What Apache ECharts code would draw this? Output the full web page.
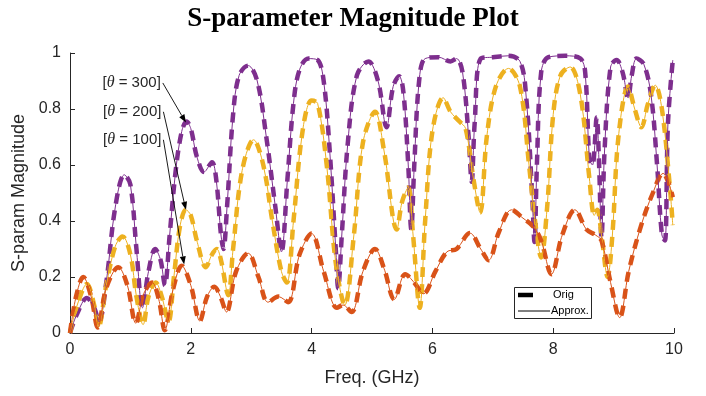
<!DOCTYPE html>
<html><head><meta charset="utf-8">
<script src="https://cdn.jsdelivr.net/npm/echarts@6/dist/echarts.min.js"></script>
<style>html,body{margin:0;padding:0;background:#fff}#c{width:706px;height:396px}</style>
</head><body><div id="c"></div>
<script>
// Frequency (GHz), magnitude pairs
const theta300 = [[0,0],[0.12,0.07],[0.28,0.125],[0.4,0.09],[0.48,0.04],[0.6,0.18],[0.75,0.45],[0.9,0.565],[1.0,0.53],[1.1,0.3],[1.2,0.09],[1.3,0.22],[1.41,0.30],[1.5,0.26],[1.57,0.17],[1.65,0.35],[1.75,0.58],[1.85,0.72],[1.93,0.755],[2.0,0.73],[2.1,0.63],[2.22,0.575],[2.35,0.61],[2.42,0.55],[2.5,0.35],[2.54,0.3],[2.6,0.45],[2.7,0.78],[2.8,0.92],[2.95,0.955],[3.1,0.9],[3.25,0.7],[3.4,0.45],[3.5,0.29],[3.6,0.55],[3.7,0.82],[3.8,0.94],[3.95,0.98],[4.1,0.975],[4.2,0.9],[4.3,0.65],[4.4,0.3],[4.44,0.16],[4.5,0.35],[4.6,0.68],[4.75,0.92],[4.94,0.97],[5.1,0.9],[5.24,0.735],[5.35,0.88],[5.45,0.917],[5.52,0.86],[5.6,0.6],[5.65,0.37],[5.7,0.6],[5.78,0.9],[5.88,0.98],[6.1,0.985],[6.3,0.97],[6.4,0.98],[6.5,0.93],[6.6,0.7],[6.65,0.54],[6.7,0.75],[6.8,0.98],[7.0,0.985],[7.25,0.99],[7.45,0.97],[7.55,0.85],[7.65,0.5],[7.69,0.325],[7.73,0.6],[7.8,0.93],[7.92,0.985],[8.2,0.99],[8.45,0.98],[8.53,0.93],[8.6,0.62],[8.65,0.6],[8.72,0.77],[8.76,0.6],[8.8,0.34],[8.85,0.65],[8.95,0.95],[9.05,0.975],[9.15,0.93],[9.24,0.84],[9.3,0.92],[9.38,0.98],[9.5,0.96],[9.62,0.85],[9.72,0.6],[9.8,0.35],[9.85,0.33],[9.9,0.75],[9.98,0.975]];
const theta200 = [[0,0],[0.12,0.1],[0.28,0.175],[0.4,0.1],[0.47,0.02],[0.6,0.17],[0.75,0.31],[0.87,0.345],[1.0,0.28],[1.1,0.13],[1.21,0.03],[1.3,0.13],[1.42,0.18],[1.52,0.13],[1.63,0.04],[1.72,0.2],[1.82,0.38],[1.92,0.44],[2.0,0.42],[2.1,0.33],[2.25,0.235],[2.35,0.28],[2.43,0.30],[2.5,0.26],[2.62,0.135],[2.7,0.3],[2.85,0.58],[3.04,0.69],[3.2,0.6],[3.35,0.4],[3.5,0.22],[3.59,0.18],[3.7,0.4],[3.85,0.72],[4.0,0.83],[4.1,0.82],[4.25,0.6],[4.4,0.25],[4.55,0.1],[4.7,0.35],[4.85,0.68],[5.05,0.79],[5.2,0.65],[5.41,0.37],[5.5,0.47],[5.6,0.52],[5.68,0.35],[5.79,0.09],[5.88,0.4],[6.0,0.72],[6.18,0.84],[6.3,0.79],[6.45,0.755],[6.55,0.73],[6.68,0.55],[6.79,0.43],[6.9,0.7],[7.05,0.88],[7.26,0.945],[7.45,0.88],[7.6,0.6],[7.7,0.4],[7.8,0.27],[7.9,0.45],[8.0,0.78],[8.12,0.92],[8.28,0.95],[8.45,0.85],[8.6,0.55],[8.68,0.42],[8.73,0.44],[8.8,0.35],[8.9,0.2],[8.98,0.35],[9.08,0.7],[9.24,0.88],[9.35,0.8],[9.46,0.735],[9.57,0.82],[9.69,0.885],[9.8,0.8],[9.92,0.55],[9.98,0.385]];
const theta100 = [[0,0],[0.1,0.13],[0.22,0.20],[0.35,0.13],[0.46,0.02],[0.6,0.16],[0.8,0.235],[0.95,0.17],[1.09,0.035],[1.22,0.14],[1.36,0.18],[1.47,0.12],[1.57,0.01],[1.7,0.15],[1.85,0.24],[2.0,0.17],[2.15,0.043],[2.27,0.13],[2.39,0.165],[2.49,0.13],[2.59,0.075],[2.75,0.22],[2.95,0.285],[3.12,0.2],[3.28,0.11],[3.45,0.13],[3.61,0.11],[3.8,0.28],[4.0,0.355],[4.2,0.22],[4.42,0.09],[4.52,0.1],[4.66,0.075],[4.85,0.22],[5.05,0.30],[5.2,0.23],[5.37,0.12],[5.55,0.21],[5.7,0.18],[5.85,0.14],[6.05,0.22],[6.24,0.29],[6.4,0.3],[6.62,0.357],[6.8,0.3],[6.93,0.26],[7.1,0.36],[7.31,0.44],[7.5,0.41],[7.67,0.38],[7.8,0.33],[7.97,0.21],[8.15,0.35],[8.36,0.44],[8.55,0.37],[8.7,0.35],[8.8,0.33],[8.95,0.18],[9.1,0.055],[9.25,0.22],[9.45,0.38],[9.65,0.5],[9.82,0.57],[9.92,0.53],[9.98,0.485]];

const curveColors = ['#7E2F8E', '#EDB120', '#D95319'];
const curveData = [theta300, theta200, theta100];
const legendLabels = ['Orig', 'Approx.'];
const annotLabels = ['300', '200', '100'];
// annotation text anchor (data coords) and arrow tip (data coords)
const annotStart = [[1.52, 0.893], [1.53, 0.79], [1.53, 0.69]];
const annotTip = [[1.92, 0.752], [1.92, 0.44], [1.89, 0.245]];

const chart = echarts.init(document.getElementById('c'), null, {renderer: 'canvas'});
const axisColor = '#262626';
const series = [];
curveData.forEach((d, i) => {
  series.push({
    name: legendLabels[0] + i, type: 'line', data: d, smooth: 0.35, symbol: 'none',
    lineStyle: {color: curveColors[i], width: 4.5, type: [10, 7], cap: 'butt'},
    z: 2, silent: true
  });
});
curveData.forEach((d, i) => {
  series.push({
    name: legendLabels[1] + i, type: 'line', data: d, smooth: 0.35, symbol: 'none',
    lineStyle: {color: curveColors[i], width: 1},
    z: 3, silent: true
  });
});

chart.setOption({
  animation: false,
  title: {
    text: 'S-parameter Magnitude Plot', left: 'center', top: 1,
    textStyle: {fontFamily: 'Liberation Serif', fontWeight: 'bold', fontSize: 27, color: '#000'}
  },
  grid: {left: 70, right: 32, top: 53, bottom: 63},
  xAxis: {
    type: 'value', min: 0, max: 10, interval: 2,
    name: 'Freq. (GHz)', nameLocation: 'middle', nameGap: 36,
    nameTextStyle: {fontFamily: 'Liberation Sans', fontSize: 18, color: axisColor},
    axisLine: {show: true, lineStyle: {color: axisColor, width: 1}},
    axisTick: {show: true, inside: true, length: 5, lineStyle: {color: axisColor}},
    axisLabel: {fontFamily: 'Liberation Sans', fontSize: 16, color: axisColor, margin: 9},
    splitLine: {show: false}
  },
  yAxis: {
    type: 'value', min: 0, max: 1, interval: 0.2,
    name: 'S-param Magnitude', nameLocation: 'middle', nameGap: 34,
    nameTextStyle: {fontFamily: 'Liberation Sans', fontSize: 18, color: axisColor},
    axisLine: {show: true, lineStyle: {color: axisColor, width: 1}},
    axisTick: {show: true, inside: true, length: 5, lineStyle: {color: axisColor}},
    axisLabel: {fontFamily: 'Liberation Sans', fontSize: 16, color: axisColor, margin: 9},
    splitLine: {show: false}
  },
  series: series
});

// annotation texts + arrows + legend box
const g = [];
annotStart.forEach((s, i) => {
  const p = chart.convertToPixel({gridIndex: 0}, s);
  const q = chart.convertToPixel({gridIndex: 0}, annotTip[i]);
  g.push({
    type: 'text', x: p[0] - 1, y: p[1], z: 10,
    style: {
      text: '{b|[}{t|θ}{b| = ' + annotLabels[i] + ']}',
      align: 'right', verticalAlign: 'middle',
      rich: {
        b: {fontFamily: 'Liberation Sans', fontSize: 15, fill: '#262626'},
        t: {fontFamily: 'Liberation Serif', fontStyle: 'italic', fontSize: 16, fill: '#262626'}
      }
    }
  });
  const dx = q[0] - p[0], dy = q[1] - p[1], L = Math.hypot(dx, dy);
  const ux = dx / L, uy = dy / L, hl = 8, hw = 3;
  const bx = q[0] - ux * hl, by = q[1] - uy * hl;
  g.push({type: 'line', z: 10, shape: {x1: p[0] + 1, y1: p[1], x2: bx, y2: by}, style: {stroke: '#000', lineWidth: 0.9}});
  g.push({type: 'polygon', z: 10, shape: {points: [[q[0], q[1]], [bx - uy * hw, by + ux * hw], [bx + uy * hw, by - ux * hw]]}, style: {fill: '#000'}});
});
const lx = 514, ly = 287;
g.push({type: 'rect', shape: {x: lx + 0.5, y: ly + 0.5, width: 77, height: 31}, style: {fill: '#fff', stroke: axisColor, lineWidth: 1}, z: 10});
g.push({type: 'line', shape: {x1: lx + 4, y1: ly + 8, x2: lx + 19, y2: ly + 8}, style: {stroke: '#000', lineWidth: 4.5}, z: 11});
g.push({type: 'line', shape: {x1: lx + 4, y1: ly + 24, x2: lx + 36, y2: ly + 24}, style: {stroke: '#000', lineWidth: 1}, z: 11});
g.push({type: 'text', x: lx + 39, y: ly + 8, z: 11, style: {text: legendLabels[0], fontFamily: 'Liberation Sans', fontSize: 11, fill: '#000', verticalAlign: 'middle'}});
g.push({type: 'text', x: lx + 37, y: ly + 24, z: 11, style: {text: legendLabels[1], fontFamily: 'Liberation Sans', fontSize: 11, fill: '#000', verticalAlign: 'middle'}});
chart.setOption({graphic: g});
</script>
</body></html>
